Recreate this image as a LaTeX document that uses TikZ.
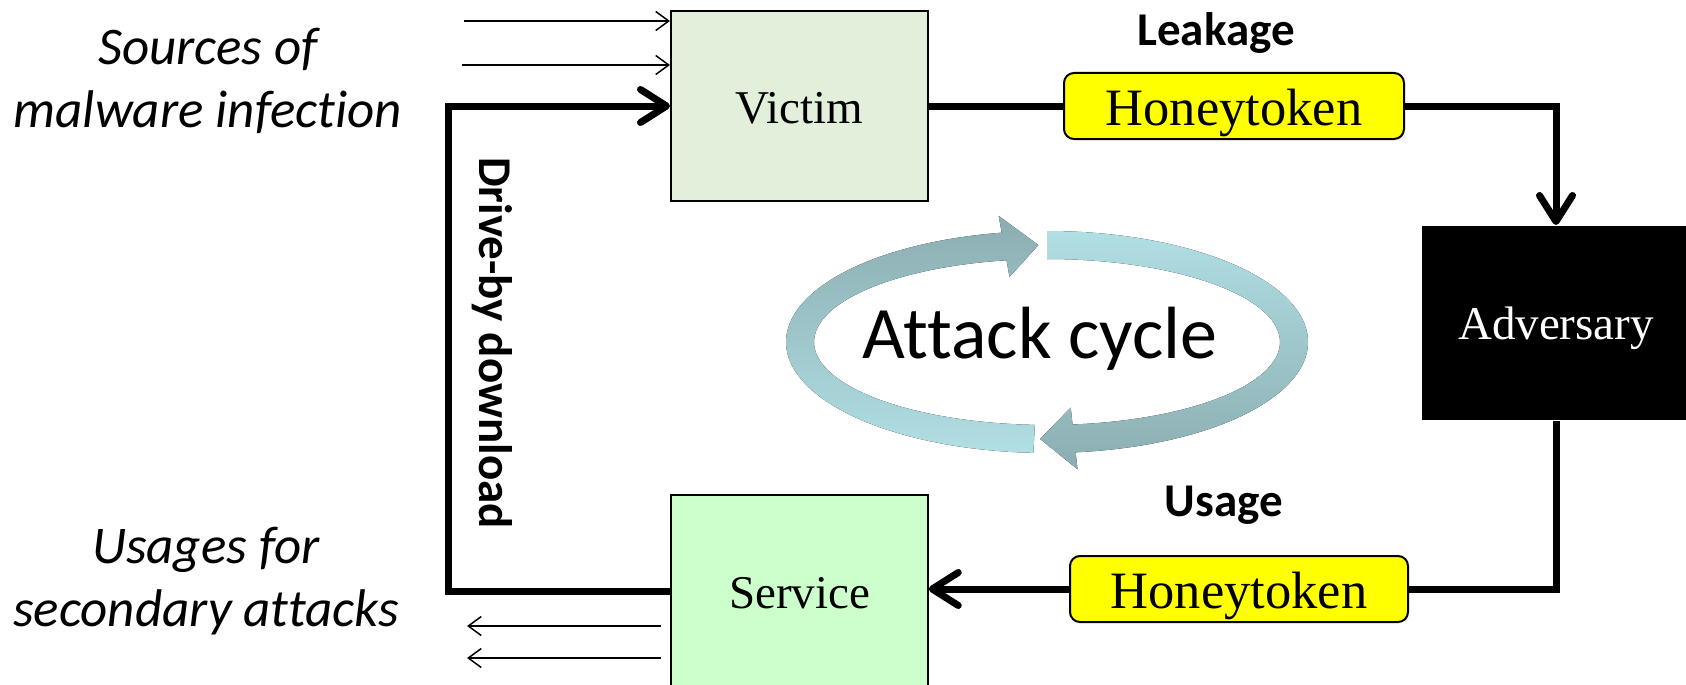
\documentclass[tikz,border=0pt]{standalone}
\usepackage{fontspec}
\setmainfont{Liberation Serif}
\newfontfamily\calibri[Ligatures=NoCommon]{Carlito}
\usetikzlibrary{arrows.meta,calc}

\definecolor{victimgreen}{RGB}{226,239,218}
\definecolor{servicegreen}{RGB}{204,255,204}
\definecolor{tokenyellow}{RGB}{255,255,0}
\definecolor{cycledark}{RGB}{139,173,177}
\definecolor{cyclelight}{RGB}{176,223,228}

\tikzset{
  box/.style={draw=black, line width=2pt, inner sep=0pt, minimum width=257pt,
              text height=34pt, text depth=0pt,
              font=\fontsize{47}{56}\selectfont},
  token/.style={draw=black, line width=2pt, fill=tokenyellow, rounded corners=10pt,
                inner sep=0pt, minimum height=66pt, text height=38pt, text depth=0pt,
                font=\fontsize{52.5}{60}\selectfont},
  conn/.style={line width=7pt, line join=miter},
  thickarrow/.style={conn, -{Straight Barb[length=26pt,width=33pt,line width=7pt,round]}},
  thinarrow/.style={line width=1.5pt, -{Straight Barb[length=13pt,width=19pt,line width=1.5pt]}},
  sidelabel/.style={align=center, font=\calibri\itshape\fontsize{53}{63}\selectfont},
  flowlabel/.style={font=\calibri\bfseries\fontsize{47}{52}\selectfont},
}

\begin{document}
\begin{tikzpicture}[x=1pt,y=-1pt]
\useasboundingbox (0,0) rectangle (1686,685);

% main boxes
\node[box, fill=victimgreen, minimum height=190pt] (victim) at (799.5,106) {Victim};
\node[box, fill=servicegreen, line width=1.5pt, minimum height=192pt] (svc) at (799.5,591) {Service};
\node[box, draw=none, fill=black, text=white, minimum width=268pt, minimum height=194pt,
      text height=32pt] (adv) at (1556,323) {Adversary};

% honeytokens on the leakage and usage paths
\node[token, minimum width=340pt] (ht1) at (1234,106) {Honeytoken};
\node[token, minimum width=338pt] (ht2) at (1239,589) {Honeytoken};

% labels
\node[flowlabel] (leak) at (1216,33) {Leakage};
\node[flowlabel] (usage) at (1224,505) {Usage};
\node[flowlabel, rotate=-90] (drive) at (492,343) {Drive-by download};
\node[sidelabel] (sources) at (208,81) {Sources of\\malware infection};
\node[sidelabel] (usages) at (206,581) {Usages for\\secondary attacks};

% attack cycle ring
\def\cx{1047}
\def\cy{342}
\fill[top color=cycledark, bottom color=cyclelight]
  plot[domain=93:260, samples=80] ({\cx+261*cos(\x)},{\cy+111*sin(\x)})
  -- ({\cx+278*cos(260)},{\cy+128*sin(260)})
  -- ({\cx+247*cos(268)},{\cy+97*sin(268)})
  -- ({\cx+216*cos(260)},{\cy+66*sin(260)})
  -- plot[domain=260:93, samples=80] ({\cx+233*cos(\x)},{\cy+83*sin(\x)})
  -- cycle;
\fill[top color=cyclelight, bottom color=cycledark]
  plot[domain=270:443.7, samples=80] ({\cx+261*cos(\x)},{\cy+111*sin(\x)})
  -- ({\cx+278*cos(443.7)},{\cy+128*sin(443.7)})
  -- ({\cx+247*cos(451.6)},{\cy+97*sin(451.6)})
  -- ({\cx+216*cos(443.7)},{\cy+66*sin(443.7)})
  -- plot[domain=443.7:270, samples=80] ({\cx+233*cos(\x)},{\cy+83*sin(\x)})
  -- cycle;
\node[font=\calibri\fontsize{74}{80}\selectfont] (cycle) at (1040,339) {Attack cycle};

% attack cycle connectors
\coordinate (loopx) at (448,0);
\draw[conn] (victim.east) -- (ht1.west);
\draw[thickarrow] (ht1.east) -| (adv.north);
\draw[conn] (adv.south) |- (ht2.east);
\draw[thickarrow] (ht2.west) -- (ht2.west -| svc.east);
\draw[thickarrow] (svc.west) -- (svc.west -| loopx) |- (victim.west);

% infection sources
\coordinate (in1) at (464,21);
\coordinate (in2) at (462,65);
\draw[thinarrow] (in1) -- (in1 -| victim.west);
\draw[thinarrow] (in2) -- (in2 -| victim.west);

% secondary usages
\coordinate (out1) at (467,626);
\coordinate (out2) at (467,658);
\draw[thinarrow] ($(out1 -| svc.west)+(-9,0)$) -- (out1);
\draw[thinarrow] ($(out2 -| svc.west)+(-9,0)$) -- (out2);
\end{tikzpicture}
\end{document}
